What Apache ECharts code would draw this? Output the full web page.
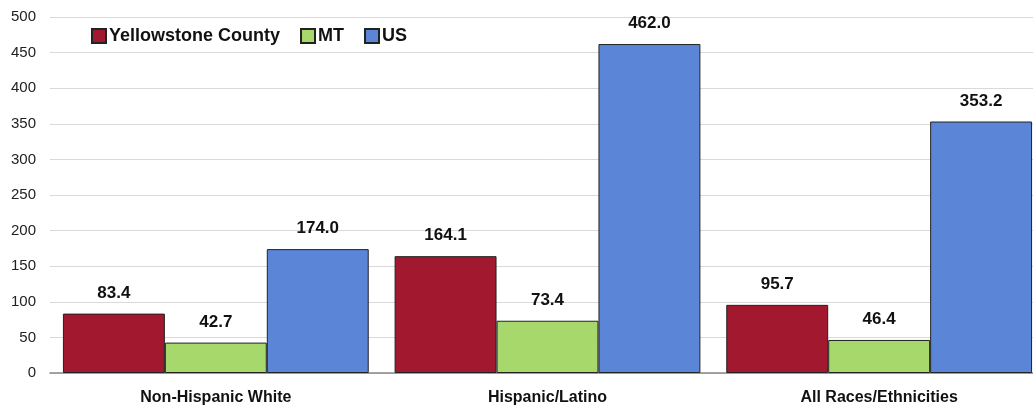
<!DOCTYPE html>
<html>
<head>
<meta charset="utf-8">
<script src="https://cdn.jsdelivr.net/npm/echarts@6/dist/echarts.min.js"></script>
<style>
html,body{margin:0;padding:0;background:#fff;overflow:hidden;}
/* the source plot runs a little past the right edge, so the chart is wider than the window */
#main{width:1045px;height:409px;}
</style>
</head>
<body>
<div id="main"></div>
<script>
var categories = ['Non-Hispanic White', 'Hispanic/Latino', 'All Races/Ethnicities'];
var countyVals = [83.4, 164.1, 95.7];
var mtVals = [42.7, 73.4, 46.4];
var usVals = [174.0, 462.0, 353.2];

var myChart = echarts.init(document.getElementById('main'));

function bar(name, data, color) {
    return {
        name: name,
        type: 'bar',
        data: data,
        barGap: '0%',
        barCategoryGap: '7.8%',
        itemStyle: { color: color, borderColor: '#222', borderWidth: 1 },
        label: {
            show: true,
            position: 'top',
            distance: 12,
            fontFamily: 'Liberation Sans',
            fontWeight: 'bold',
            fontSize: 17,
            color: '#111',
            formatter: function (p) { return p.value.toFixed(1); }
        }
    };
}

var option = {
    animation: false,
    grid: { left: 50, right: 0, top: 17, bottom: 36, containLabel: false },
    legend: {
        left: 86,
        top: 22,
        itemWidth: 14,
        itemHeight: 14,
        itemGap: 20,
        icon: 'rect',
        textStyle: { fontFamily: 'Liberation Sans', fontWeight: 'bold', fontSize: 18, color: '#111', padding: [0, 0, 0, -2] },
        data: ['Yellowstone County', 'MT', 'US']
    },
    xAxis: {
        type: 'category',
        data: categories,
        axisTick: { show: false },
        axisLine: { lineStyle: { color: '#888', width: 1.5 } },
        axisLabel: { fontFamily: 'Liberation Sans', fontWeight: 'bold', fontSize: 16, color: '#111', margin: 17 }
    },
    yAxis: {
        type: 'value',
        min: 0,
        max: 500,
        interval: 50,
        axisLine: { show: false },
        axisTick: { show: false },
        splitLine: { lineStyle: { color: '#d9d9d9' } },
        axisLabel: { fontFamily: 'Liberation Sans', fontSize: 15, color: '#222', margin: 14 }
    },
    series: [
        bar('Yellowstone County', countyVals, '#A2182F'),
        bar('MT', mtVals, '#A6D86B'),
        bar('US', usVals, '#5B86D8')
    ]
};
myChart.setOption(option);
</script>
</body>
</html>
